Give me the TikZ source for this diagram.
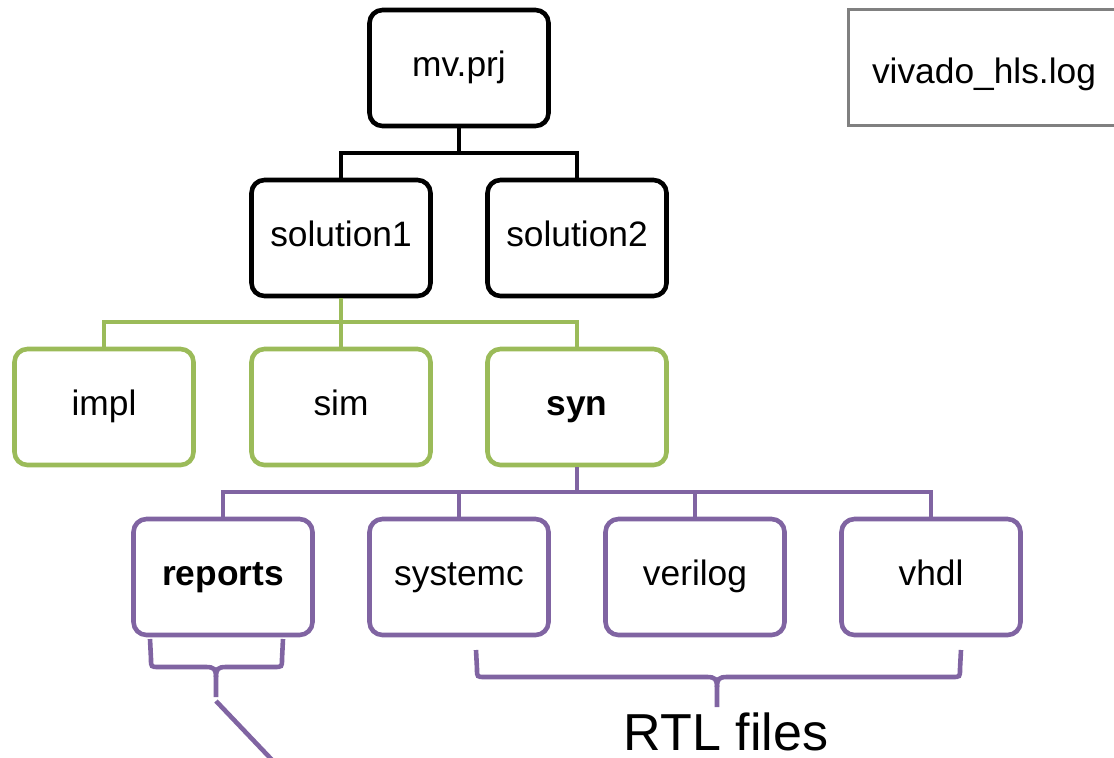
\documentclass[tikz,border=0pt]{standalone}
\usepackage{fontspec}
\setmainfont{Liberation Sans}
\definecolor{leafgreen}{HTML}{9BBB59}
\definecolor{dirpurple}{HTML}{8064A2}
\definecolor{loggray}{HTML}{808080}
\def\px{0.75pt}
\tikzset{
  dirbox/.style={draw, line width=4.6*\px, rounded corners=13*\px,
    minimum width=179*\px, minimum height=116*\px, inner sep=0pt,
    font=\fontsize{26.5}{30}\selectfont, text height=12pt, text depth=0pt},
  topbox/.style={dirbox, draw=black},
  solbox/.style={dirbox, draw=leafgreen},
  synbox/.style={dirbox, draw=dirpurple},
  tree/.style={line width=4.6*\px},
  bracket/.style={line width=4.6*\px, draw=dirpurple},
}
\begin{document}
\begin{tikzpicture}[x=0.75pt, y=-0.75pt]
\useasboundingbox (0,0) rectangle (1114,757);
\clip (0,0) rectangle (1114,757);

% project root and solutions
\node[topbox] (prj) at (459,68) {mv.prj};
\node[topbox] (sol1) at (341,238) {solution1};
\node[topbox] (sol2) at (577,238) {solution2};

% log file beside the project
\node[draw=loggray, line width=3.2*\px, minimum width=290*\px, minimum height=116*\px,
  inner sep=0pt] (logbox) at (993.5,67.5) {};
\node[anchor=base, font=\fontsize{26.5}{30}\selectfont] (logtext) at (984,83) {vivado\_hls.log};

% solution1 subfolders
\node[solbox] (impl) at (104,407) {impl};
\node[solbox] (sim) at (341,407) {sim};
\node[solbox] (syn) at (577,407) {\textbf{syn}};

% syn subfolders
\node[synbox] (rep) at (223,577) {\textbf{reports}};
\node[synbox] (sysc) at (459,577) {systemc};
\node[synbox] (vlog) at (695,577) {verilog};
\node[synbox] (vhdl) at (931,577) {vhdl};

% tree connectors
\coordinate (busA) at (459,153);
\draw[tree, black] (prj.south) -- (busA) -| (sol1.north);
\draw[tree, black] (busA) -| (sol2.north);

\coordinate (busB) at (341,322);
\draw[tree, leafgreen] (sol1.south) -- (busB) -| (impl.north);
\draw[tree, leafgreen] (busB) -| (syn.north);
\draw[tree, leafgreen] (busB) -- (sim.north);

\coordinate (busC) at (577,492);
\draw[tree, dirpurple] (syn.south) -- (busC) -| (rep.north);
\draw[tree, dirpurple] (busC) -| (vhdl.north);
\draw[tree, dirpurple] (sysc.north) |- (busC);
\draw[tree, dirpurple] (vlog.north) |- (busC);

% brace under reports
\coordinate (rtip) at (216,697);
\draw[bracket] (150,639) -- (151,659) .. controls (151,667) and (151,667) .. (159,667)
  -- (206,667) .. controls (214,667) and (216,669) .. (216,677) -- (rtip);
\draw[bracket] (283,639) -- (282,659) .. controls (282,667) and (282,667) .. (274,667)
  -- (226,667) .. controls (218,667) and (216,669) .. (216,677);
\coordinate (rstart) at (216,701);
\coordinate (rend) at (274,762);
\draw[bracket] (rstart) -- (rend);

% brace under the RTL folders
\coordinate (ftip) at (717,707);
\draw[bracket] (476,650) -- (477,669) .. controls (477,677) and (477,677) .. (485,677)
  -- (707,677) .. controls (715,677) and (717,679) .. (717,687) -- (ftip);
\draw[bracket] (961,650) -- (960,669) .. controls (960,677) and (960,677) .. (952,677)
  -- (727,677) .. controls (719,677) and (717,679) .. (717,687);

\node[anchor=base, font=\fontsize{39}{44}\selectfont, inner sep=0pt, text depth=0pt]
  (rtl) at (726,750) {RTL files};
\end{tikzpicture}
\end{document}
